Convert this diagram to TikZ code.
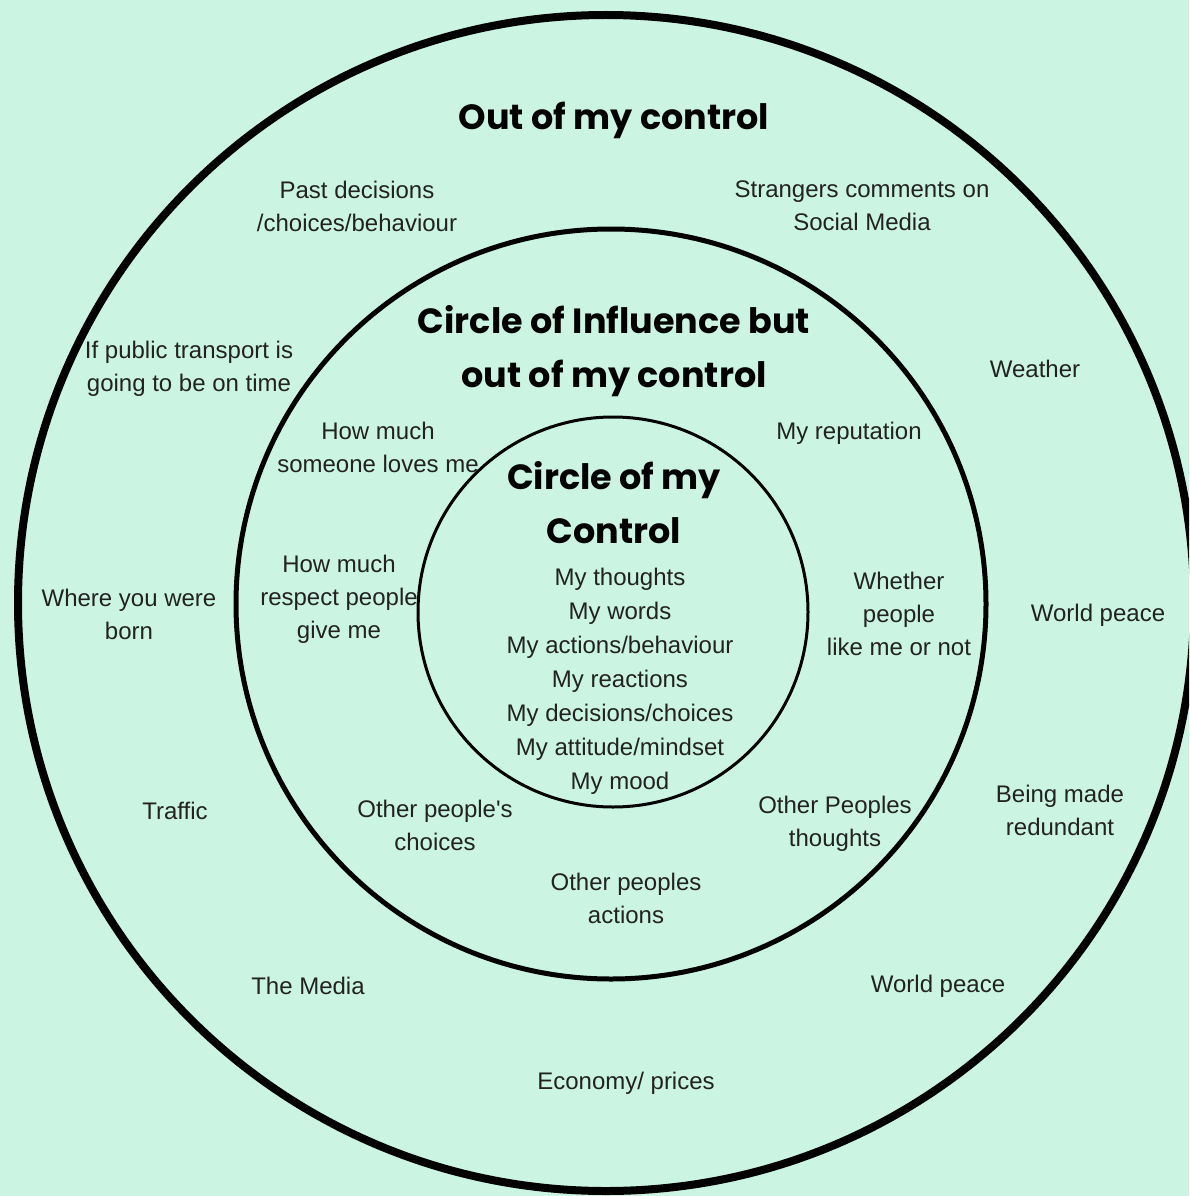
\documentclass[tikz,border=0pt]{standalone}
\usepackage{fontspec}
\setmainfont{Liberation Sans}
\newfontfamily\bodyfont{Liberation Sans}
\newfontfamily\headfont{Poppins}
\definecolor{bgmint}{HTML}{CBF5E2}
\definecolor{bodytext}{HTML}{222222}
\begin{document}
\begin{tikzpicture}[x=1pt,y=-1pt,
  ring/.style={draw=black,circle,inner sep=0pt,outer sep=0pt},
  body/.style={align=center,inner sep=0pt,text=bodytext,font=\bodyfont\fontsize{24}{33}\selectfont},
  listtxt/.style={align=center,inner sep=0pt,text=bodytext,font=\bodyfont\fontsize{24}{34}\selectfont},
  head/.style={align=center,inner sep=0pt,text=black,font=\headfont\bfseries\fontsize{35}{54}\selectfont}]
\useasboundingbox (0,0) rectangle (1189,1196);
\clip (0,0) rectangle (1189,1196);
\fill[bgmint] (0,0) rectangle (1189,1196);
% circles
\node[ring,line width=8pt,minimum size=1176pt] (outer) at (606,603) {};
\node[ring,line width=5pt,minimum size=750pt] (middle) at (611,604) {};
\node[ring,line width=3pt,minimum size=390pt] (inner) at (613,612) {};
% headings
\node[head] (h1) at (614,120) {Out of my control};
\node[head] (h2) at (614,351) {Circle of Influence but\\out of my control};
\node[head] (h3) at (614,503) {Circle of my\\Control};
% outer ring texts
\node[body] (t1) at (357,206) {Past decisions\\/choices/behaviour};
\node[body] (t2) at (862,206) {Strangers comments on\\Social Media};
\node[body] (t3) at (189,369) {If public transport is\\going to be on time};
\node[body] (t4) at (1035,369) {Weather};
\node[body] (t5) at (129,614) {Where you were\\born};
\node[body] (t6) at (1098,615) {World peace};
\node[body] (t7) at (175,811) {Traffic};
\node[body] (t8) at (1060,810) {Being made\\redundant};
\node[body] (t9) at (308,986) {The Media};
\node[body] (t10) at (938,986) {World peace};
\node[body] (t11) at (626,1083) {Economy/ prices};
% middle ring texts
\node[body] (m1) at (378,447) {How much\\someone loves me};
\node[body] (m2) at (849,433) {My reputation};
\node[body] (m3) at (339,599) {How much\\respect people\\give me};
\node[body] (m4) at (899,614) {Whether\\people\\like me or not};
\node[body] (m5) at (435,825) {Other people's\\choices};
\node[body] (m6) at (835,824) {Other Peoples\\thoughts};
\node[body] (m7) at (626,898) {Other peoples\\actions};
% inner list
\node[listtxt] (list) at (620,681) {My thoughts\\My words\\My actions/behaviour\\My reactions\\My decisions/choices\\My attitude/mindset\\My mood};
\end{tikzpicture}
\end{document}
